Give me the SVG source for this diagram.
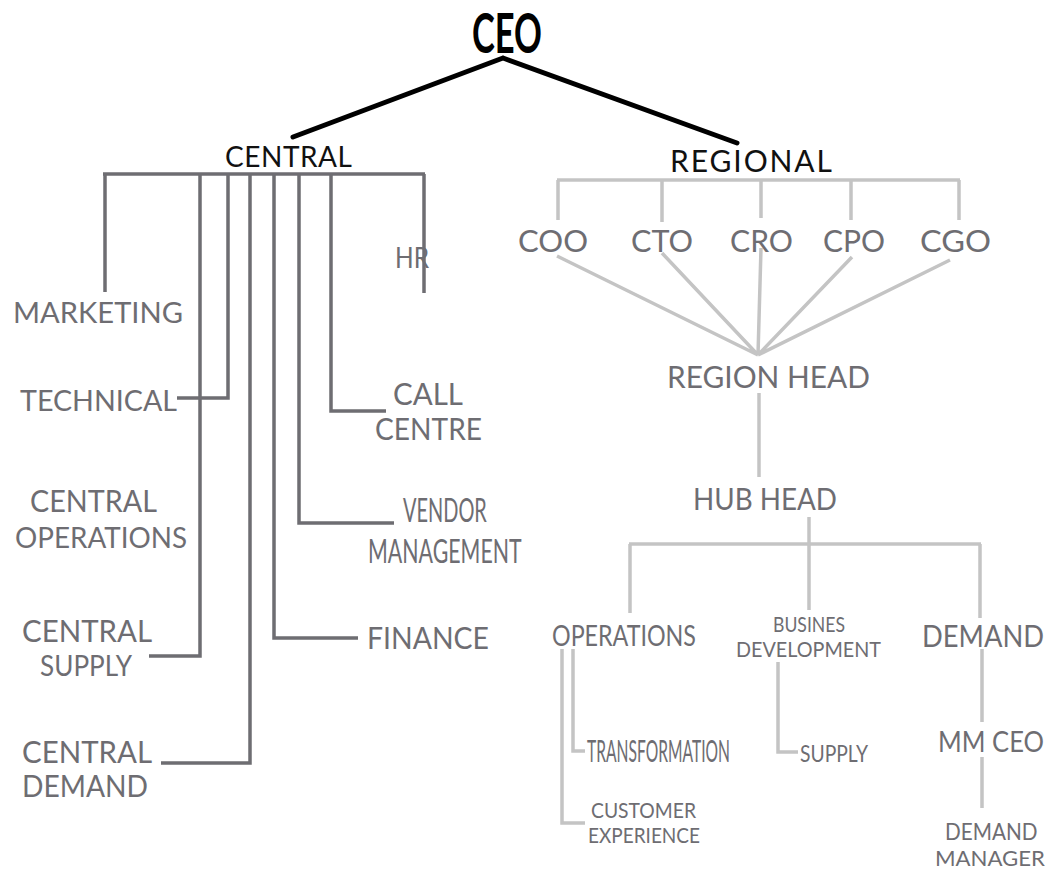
<svg xmlns="http://www.w3.org/2000/svg" width="1054" height="871" viewBox="0 0 1054 871">
  <style>
    .bg { fill: #ffffff; }
    text { font-family: Lato, "Liberation Sans", sans-serif; }
    .lbl { fill: #6e6d72; }
    .head { fill: #111111; }
    .top { fill: #000000; font-weight: bold; }
    .link-top { stroke: #000000; stroke-width: 5; fill: none; stroke-linecap: round; }
    .link-dark { stroke: #6e6d72; stroke-width: 3.5; fill: none; stroke-linejoin: miter; }
    .link-light { stroke: #c4c4c4; stroke-width: 3.5; fill: none; stroke-linejoin: miter; }
  </style>
  <rect class="bg" x="0" y="0" width="1054" height="871"/>

  <!-- connectors -->
  <g id="connectors">
    <!-- CEO to the two divisions -->
    <path class="link-top" d="M503 58 L293 137 M503 58 L737 143"/>

    <!-- central division tree -->
    <path class="link-dark" d="M103 174 H425"/>
    <path class="link-dark" d="M105 174 V292"/>
    <path class="link-dark" d="M200 174 V656 H149"/>
    <path class="link-dark" d="M228 174 V398 H177"/>
    <path class="link-dark" d="M250 174 V763 H161"/>
    <path class="link-dark" d="M274 174 V638 H358"/>
    <path class="link-dark" d="M299 174 V523 H394"/>
    <path class="link-dark" d="M331 174 V411 H386"/>
    <path class="link-dark" d="M424 174 V293"/>

    <!-- regional division tree -->
    <path class="link-light" d="M557 180 H960"/>
    <path class="link-light" d="M558 180 V220 M662 180 V222 M761 180 V218 M851 180 V220 M959 180 V220"/>
    <path class="link-light" d="M557 256 L758 355 M662 253 L758 355 M761 248 L758 355 M852 257 L758 355 M950 260 L758 355"/>
    <path class="link-light" d="M759 393 V477"/>
    <path class="link-light" d="M809 517 V544"/>
    <path class="link-light" d="M629 544 H981"/>
    <path class="link-light" d="M630 544 V613 M809 544 V610 M980 544 V618"/>
    <path class="link-light" d="M562 649 V823 H585"/>
    <path class="link-light" d="M573 649 V751 H585"/>
    <path class="link-light" d="M778 662 V752 H798"/>
    <path class="link-light" d="M982 649 V722 M982 757 V808"/>
  </g>

  <!-- nodes -->
  <g id="ceo"><text class="top" x="472" y="53" font-size="56" textLength="70" lengthAdjust="spacingAndGlyphs">CEO</text></g>
  <g id="central"><text class="head" x="225" y="167" font-size="28" textLength="127" lengthAdjust="spacing">CENTRAL</text></g>
  <g id="regional"><text class="head" x="670" y="172" font-size="30" textLength="162" lengthAdjust="spacing">REGIONAL</text></g>

  <g id="hr"><text class="lbl" x="395" y="268" font-size="29" textLength="34" lengthAdjust="spacingAndGlyphs">HR</text></g>
  <g id="marketing"><text class="lbl" x="13" y="323" font-size="28" textLength="170" lengthAdjust="spacingAndGlyphs">MARKETING</text></g>
  <g id="technical"><text class="lbl" x="20" y="411" font-size="29" textLength="157" lengthAdjust="spacingAndGlyphs">TECHNICAL</text></g>
  <g id="call-centre">
    <text class="lbl" x="393" y="405" font-size="30" textLength="70" lengthAdjust="spacingAndGlyphs">CALL</text>
    <text class="lbl" x="375" y="440" font-size="30" textLength="107" lengthAdjust="spacingAndGlyphs">CENTRE</text>
  </g>
  <g id="central-operations">
    <text class="lbl" x="30" y="512" font-size="30" textLength="127" lengthAdjust="spacingAndGlyphs">CENTRAL</text>
    <text class="lbl" x="15" y="548" font-size="29" textLength="172" lengthAdjust="spacingAndGlyphs">OPERATIONS</text>
  </g>
  <g id="vendor-management">
    <!-- condensed lettering: narrowed by a horizontal scale -->
    <text class="lbl" transform="translate(403 522) scale(0.64 1)" font-size="32" textLength="131" lengthAdjust="spacingAndGlyphs">VENDOR</text>
    <text class="lbl" transform="translate(368 563) scale(0.68 1)" font-size="32" textLength="226" lengthAdjust="spacingAndGlyphs">MANAGEMENT</text>
  </g>
  <g id="finance"><text class="lbl" x="367" y="649" font-size="30" textLength="122" lengthAdjust="spacingAndGlyphs">FINANCE</text></g>
  <g id="central-supply">
    <text class="lbl" x="22" y="642" font-size="30" textLength="130" lengthAdjust="spacingAndGlyphs">CENTRAL</text>
    <text class="lbl" x="40" y="676" font-size="28" textLength="92" lengthAdjust="spacingAndGlyphs">SUPPLY</text>
  </g>
  <g id="central-demand">
    <text class="lbl" x="22" y="763" font-size="31" textLength="130" lengthAdjust="spacingAndGlyphs">CENTRAL</text>
    <text class="lbl" x="22" y="797" font-size="30" textLength="126" lengthAdjust="spacingAndGlyphs">DEMAND</text>
  </g>

  <g id="coo"><text class="lbl" x="518" y="252" font-size="30" textLength="70" lengthAdjust="spacingAndGlyphs">COO</text></g>
  <g id="cto"><text class="lbl" x="631" y="252" font-size="30" textLength="62" lengthAdjust="spacingAndGlyphs">CTO</text></g>
  <g id="cro"><text class="lbl" x="730" y="252" font-size="30" textLength="63" lengthAdjust="spacingAndGlyphs">CRO</text></g>
  <g id="cpo"><text class="lbl" x="823" y="252" font-size="30" textLength="62" lengthAdjust="spacingAndGlyphs">CPO</text></g>
  <g id="cgo"><text class="lbl" x="920" y="252" font-size="30" textLength="71" lengthAdjust="spacingAndGlyphs">CGO</text></g>

  <g id="region-head"><text class="lbl" x="667" y="388" font-size="30" textLength="203" lengthAdjust="spacingAndGlyphs">REGION HEAD</text></g>
  <g id="hub-head"><text class="lbl" x="693" y="510" font-size="30" textLength="144" lengthAdjust="spacingAndGlyphs">HUB HEAD</text></g>

  <g id="operations"><text class="lbl" x="552" y="646" font-size="29" textLength="144" lengthAdjust="spacingAndGlyphs">OPERATIONS</text></g>
  <g id="business-development">
    <text class="lbl" x="773" y="632" font-size="22" textLength="72" lengthAdjust="spacingAndGlyphs">BUSINES</text>
    <text class="lbl" x="736" y="657" font-size="21" textLength="145" lengthAdjust="spacingAndGlyphs">DEVELOPMENT</text>
  </g>
  <g id="demand"><text class="lbl" x="922" y="647" font-size="30" textLength="122" lengthAdjust="spacingAndGlyphs">DEMAND</text></g>

  <g id="transformation"><text class="lbl" transform="translate(587 762) scale(0.5 1)" font-size="31" textLength="286" lengthAdjust="spacingAndGlyphs">TRANSFORMATION</text></g>
  <g id="customer-experience">
    <text class="lbl" x="591" y="818" font-size="22" textLength="105" lengthAdjust="spacingAndGlyphs">CUSTOMER</text>
    <text class="lbl" x="588" y="843" font-size="22" textLength="112" lengthAdjust="spacingAndGlyphs">EXPERIENCE</text>
  </g>
  <g id="supply"><text class="lbl" x="800" y="762" font-size="24" textLength="68" lengthAdjust="spacingAndGlyphs">SUPPLY</text></g>
  <g id="mm-ceo"><text class="lbl" x="938" y="752" font-size="28" textLength="106" lengthAdjust="spacingAndGlyphs">MM CEO</text></g>
  <g id="demand-manager">
    <text class="lbl" transform="translate(945 840) scale(0.89 1)" font-size="24" textLength="104" lengthAdjust="spacingAndGlyphs">DEMAND</text>
    <text class="lbl" x="935" y="866" font-size="22" textLength="110" lengthAdjust="spacingAndGlyphs">MANAGER</text>
  </g>
</svg>
